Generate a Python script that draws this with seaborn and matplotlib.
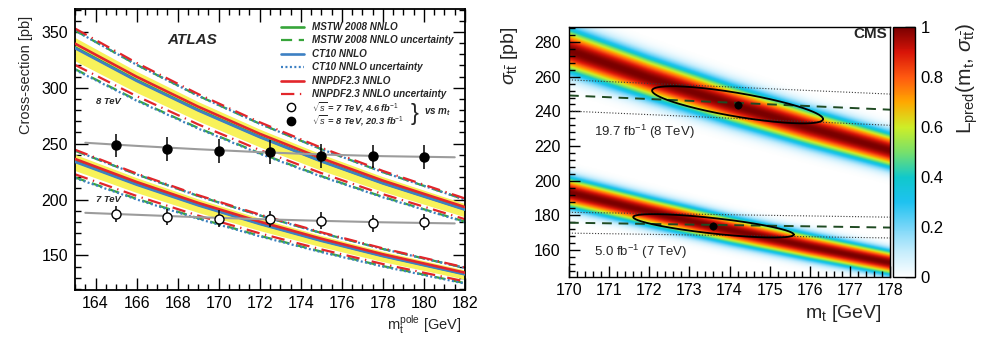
import math
import numpy as np
import pandas as pd
import matplotlib
matplotlib.use("Agg")
import matplotlib.pyplot as plt
from matplotlib.colors import LinearSegmentedColormap
from matplotlib.ticker import MultipleLocator, FuncFormatter
import seaborn as sns

# ---------------- ATLAS: theory predictions vs pole mass ----------------
m_theory = [163, 166, 169, 172, 175, 178, 182]
mstw_8tev = [336.2, 306.8, 280.3, 256.3, 234.5, 214.8, 191.3]
ct10_8tev = [335.5, 306.2, 279.7, 255.8, 234.1, 214.4, 190.9]
nnpdf_8tev = [339.5, 309.9, 283.1, 258.8, 236.9, 216.9, 193.2]
mstw_7tev = [234.3, 213.9, 195.4, 178.6, 163.5, 149.7, 133.4]
ct10_7tev = [233.7, 213.3, 194.8, 178.1, 163.0, 149.3, 133.0]
nnpdf_7tev = [236.3, 215.7, 197.0, 180.2, 164.9, 151.0, 134.5]

# relative uncertainties in percent: (up, down)
mstw_unc_8tev = [4.5, 5.8]
ct10_unc_8tev = [4.7, 5.8]
nnpdf_unc_8tev = [4.0, 5.6]
mstw_unc_7tev = [4.0, 6.2]
ct10_unc_7tev = [4.3, 6.2]
nnpdf_unc_7tev = [3.5, 5.8]
scale_unc = [2.6, 3.6]

# measured cross-sections at each assumed mass
mt_points = [165, 167.5, 170, 172.5, 175, 177.5, 180]
xsec_8tev = [248.5, 245.4, 243.3, 242.4, 239.0, 238.6, 238.0]
err_8tev = [10.5, 10.5, 10.5, 10.5, 10.5, 10.5, 10.5]
xsec_7tev = [187.2, 184.5, 183.0, 182.7, 181.2, 178.6, 180.0]
err_7tev = [7.3, 7.3, 7.3, 7.3, 7.3, 7.3, 7.3]

# mass dependence fitted through the measurements
m_fit = [163.5, 166, 169, 172, 175, 178, 181.5]
fit_8tev = [250.8, 248.0, 245.0, 242.4, 240.3, 238.8, 237.8]
fit_7tev = [188.1, 186.3, 184.2, 182.4, 180.9, 179.6, 178.6]

# ---------------- CMS: predicted likelihood and measurement ----------------
cms_mt = [170, 172, 174, 176, 178]
band_center_8tev = [274.7, 258.8, 243.9, 230.0, 217.0]
band_center_7tev = [192.8, 181.7, 171.2, 161.5, 152.3]
band_halfwidth_pct = 3.6
band_smear_pct = 2.0

meas_mt = [170, 178]
meas_8tev = [249.2, 241.0]
meas_unc_8tev = 9.0
meas_7tev = [175.8, 173.0]
meas_unc_7tev = 6.0

best_mt = [173.6, 174.2]
best_xsec = [174.0, 243.8]
ellipse_dm = [2.0, 2.13]
ellipse_tilt = [-2.52, -3.85]
ellipse_dsig = [4.48, 6.9]

# ---------------- style ----------------
sns.set_theme(style="ticks")
plt.rcParams["font.family"] = ["Liberation Sans", "DejaVu Sans"]
plt.rcParams["mathtext.fontset"] = "custom"
plt.rcParams["mathtext.rm"] = "Liberation Sans"
plt.rcParams["mathtext.it"] = "Liberation Sans:italic"
plt.rcParams["mathtext.bf"] = "Liberation Sans:bold"
plt.rcParams["mathtext.sf"] = "Liberation Sans"
plt.rcParams["axes.edgecolor"] = "black"
plt.rcParams["xtick.color"] = "black"
plt.rcParams["ytick.color"] = "black"

GREEN = "#37a53a"
BLUE = "#3d80c3"
RED = "#e2262b"
YELLOW = "#f8f25a"
DASH_MSTW = (0, (5, 3))
DASH_CT10 = (0, (0.9, 1.1))
DASH_NNPDF = (0, (6, 2.5, 0.6, 2.5))

W, H = 986, 343
fig = plt.figure(figsize=(W / 100, H / 100), dpi=100)
axL = fig.add_axes([0.0761, 0.1545, 0.3955, 0.8192])
axR = fig.add_axes([0.5771, 0.1910, 0.3256, 0.7303])
cax = fig.add_axes([0.9057, 0.1910, 0.0223, 0.7303])

# ---------------- left panel ----------------
series = [
    (GREEN, mstw_8tev, mstw_unc_8tev, mstw_7tev, mstw_unc_7tev, DASH_MSTW),
    (BLUE, ct10_8tev, ct10_unc_8tev, ct10_7tev, ct10_unc_7tev, DASH_CT10),
    (RED, nnpdf_8tev, nnpdf_unc_8tev, nnpdf_7tev, nnpdf_unc_7tev, DASH_NNPDF),
]

m_arr = np.array(m_theory)
for central in (mstw_8tev, mstw_7tev):
    c = np.array(central)
    axL.fill_between(m_arr, c * (1 + scale_unc[0] / 100), c * (1 - scale_unc[1] / 100),
                     color=YELLOW, lw=0, zorder=1)

for col, c8, u8, c7, u7, dash in series:
    for cen, unc in ((c8, u8), (c7, u7)):
        c = np.array(cen)
        for edge in (c * (1 + unc[0] / 100), c * (1 - unc[1] / 100)):
            axL.plot(m_arr, edge, color=col, lw=1.6, linestyle=dash, zorder=2)

for col, c8, u8, c7, u7, dash in series:
    for cen in (c8, c7):
        df = pd.DataFrame({"m": m_theory, "xsec": cen})
        sns.lineplot(data=df, x="m", y="xsec", ax=axL, color=col, lw=1.9,
                     errorbar=None, zorder=3)

for fit in (fit_8tev, fit_7tev):
    sns.lineplot(x=m_fit, y=fit, ax=axL, color="#9c9c9c", lw=1.5, errorbar=None, zorder=4)

axL.errorbar(mt_points, xsec_8tev, yerr=err_8tev, fmt="o", color="black", ms=6.5,
             mfc="black", mec="black", elinewidth=1.1, capsize=0, zorder=5)
axL.errorbar(mt_points, xsec_7tev, yerr=err_7tev, fmt="o", color="black", ms=6.5,
             mfc="white", mec="black", mew=1.0, elinewidth=1.1, capsize=0, zorder=5)

axL.set_xlim(163, 182)
axL.set_ylim(119, 370.5)
axL.xaxis.set_major_locator(MultipleLocator(2))
axL.xaxis.set_minor_locator(MultipleLocator(0.5))
axL.yaxis.set_major_locator(MultipleLocator(50))
axL.yaxis.set_minor_locator(MultipleLocator(10))
axL.tick_params(which="both", direction="in", top=True, right=True, labelsize=11.5, width=1)
axL.tick_params(which="major", length=9)
axL.tick_params(which="minor", length=4.5)
axL.tick_params(axis="x", pad=4)
axL.tick_params(axis="y", pad=5)
for sp in axL.spines.values():
    sp.set_linewidth(1.3)

axL.set_xlabel(r"m$_{\mathregular{t}}^{\mathregular{pole}}$ [GeV]", fontsize=10.5, loc="right")
axL.xaxis.set_label_coords(0.99, -0.085)
axL.set_ylabel("Cross-section [pb]", fontsize=10.5, loc="top")
axL.yaxis.set_label_coords(-0.108, 0.975)

axL.text(168.7, 343, "ATLAS", fontsize=11, fontweight="bold", fontstyle="italic",
         ha="center", va="center")
axL.text(164.0, 288, "8 TeV", fontsize=6.8, fontweight="bold", fontstyle="italic",
         ha="left", va="center")
axL.text(164.0, 200, "7 TeV", fontsize=6.8, fontweight="bold", fontstyle="italic",
         ha="left", va="center")

# legend, laid out row by row in axes fractions
ax_x0, ax_w, ax_bottom, ax_h = 75, 390, 290, 281


def fx(px):
    return (px - ax_x0) / ax_w


def fy(py):
    return (ax_bottom - py) / ax_h


leg_kw = dict(transform=axL.transAxes, fontsize=7.1, fontweight="bold", fontstyle="italic",
              ha="left", va="center")
line_keys = [
    (GREEN, 1.9, "-", "MSTW 2008 NNLO"),
    (GREEN, 1.6, DASH_MSTW, "MSTW 2008 NNLO uncertainty"),
    (BLUE, 1.9, "-", "CT10 NNLO"),
    (BLUE, 1.6, DASH_CT10, "CT10 NNLO uncertainty"),
    (RED, 1.9, "-", "NNPDF2.3 NNLO"),
    (RED, 1.6, DASH_NNPDF, "NNPDF2.3 NNLO uncertainty"),
]
row_y = [27 + 13.4 * i for i in range(8)]
for (col, lw, ls, label), py in zip(line_keys, row_y):
    axL.plot([fx(281), fx(304)], [fy(py), fy(py)], transform=axL.transAxes, color=col,
             lw=lw, linestyle=ls, clip_on=False, zorder=6)
    axL.text(fx(312), fy(py), label, **leg_kw)

marker_keys = [
    ("white", r"$\sqrt{s}$ = 7 TeV, 4.6 fb$^{-1}$"),
    ("black", r"$\sqrt{s}$ = 8 TeV, 20.3 fb$^{-1}$"),
]
marker_kw = dict(leg_kw, fontsize=6.7)
for (face, label), py in zip(marker_keys, row_y[6:]):
    axL.plot([fx(291)], [fy(py)], transform=axL.transAxes, marker="o", ms=6, mfc=face,
             mec="black", mew=1.0, ls="none", clip_on=False, zorder=6)
    axL.text(fx(312), fy(py), label, **marker_kw)
axL.text(fx(415), fy(114), "}", transform=axL.transAxes, fontsize=17, ha="center", va="center")
axL.text(fx(424), fy(112), r"vs m$_{\mathregular{t}}$", transform=axL.transAxes,
         fontsize=7.1, fontweight="bold", fontstyle="italic", ha="left", va="center")

# ---------------- right panel ----------------
colors = [
    (0.00, "#ffffff"), (0.10, "#c6edfc"), (0.20, "#78d6f8"), (0.30, "#1ec2f0"),
    (0.40, "#10c8cc"), (0.50, "#78e06a"), (0.60, "#cdee28"), (0.70, "#ffa800"),
    (0.80, "#ff5a10"), (0.90, "#d81408"), (1.00, "#7a0000"),
]
cmap = LinearSegmentedColormap.from_list("lpred", colors)

y_lo, y_hi = 144.2, 288.7
m_grid = np.linspace(170, 178, 401)
s_grid = np.linspace(y_lo, y_hi, 601)
M, S = np.meshgrid(m_grid, s_grid)
verf = np.vectorize(math.erf)


def band_likelihood(center):
    c = np.interp(M, cms_mt, center)
    w = c * band_halfwidth_pct / 100
    s = c * band_smear_pct / 100 * np.sqrt(2)
    d = S - c
    return (verf((d + w) / s) - verf((d - w) / s)) / (2 * verf(w / s))


L = np.maximum(band_likelihood(band_center_8tev), band_likelihood(band_center_7tev))
im = axR.imshow(L, origin="lower", extent=[170, 178, y_lo, y_hi], aspect="auto",
                cmap=cmap, vmin=0, vmax=1, interpolation="bilinear", zorder=0)

for meas, unc in ((meas_8tev, meas_unc_8tev), (meas_7tev, meas_unc_7tev)):
    meas = np.array(meas)
    axR.plot(meas_mt, meas, color="#1f4a22", lw=1.4, linestyle=(0, (5, 3.5)), zorder=2)
    for edge in (meas + unc, meas - unc):
        axR.plot(meas_mt, edge, color="#3a3a3a", lw=0.8, linestyle=(0, (1, 1.6)), zorder=2)

t = np.linspace(0, 2 * np.pi, 300)
for m0, s0, dm, k, ds in zip(best_mt, best_xsec, ellipse_dm, ellipse_tilt, ellipse_dsig):
    axR.plot(m0 + dm * np.cos(t), s0 + k * dm * np.cos(t) + ds * np.sin(t),
             color="black", lw=1.3, zorder=3)
sns.scatterplot(x=best_mt, y=best_xsec, ax=axR, color="black", s=28, edgecolor="black", zorder=4)

axR.set_xlim(170, 178)
axR.set_ylim(y_lo, y_hi)
axR.xaxis.set_major_locator(MultipleLocator(1))
axR.xaxis.set_minor_locator(MultipleLocator(0.2))
axR.yaxis.set_major_locator(MultipleLocator(20))
axR.yaxis.set_minor_locator(MultipleLocator(4))
axR.tick_params(which="both", direction="in", labelsize=11.5, width=1)
axR.tick_params(which="major", length=8)
axR.tick_params(which="minor", length=4)
axR.tick_params(axis="x", pad=4)
axR.tick_params(axis="y", pad=6)
for sp in axR.spines.values():
    sp.set_linewidth(1.0)

axR.set_xlabel(r"m$_{\mathregular{t}}$ [GeV]", fontsize=14, loc="right")
axR.xaxis.set_label_coords(0.975, -0.10)
axR.set_ylabel(r"$\sigma_{\mathregular{t\bar{t}}}$ [pb]", fontsize=14, loc="top")
axR.yaxis.set_label_coords(-0.153, 1.0)

axR.text(177.92, 284.4, "CMS", fontsize=11, fontweight="bold", ha="right", va="center")
axR.text(170.61, 228, r"19.7 fb$^{-1}$ (8 TeV)", fontsize=9.5, ha="left", va="center")
axR.text(170.61, 159, r"5.0 fb$^{-1}$ (7 TeV)", fontsize=9.5, ha="left", va="center")

cb = fig.colorbar(im, cax=cax)
cb.outline.set_linewidth(1.0)
cb.set_ticks([0, 0.2, 0.4, 0.6, 0.8, 1.0])
cb.ax.yaxis.set_major_formatter(FuncFormatter(lambda v, p: f"{v:g}"))
cax.tick_params(direction="in", length=7, width=1, labelsize=12, pad=4)
cb.set_label(r"L$_{\mathregular{pred}}$(m$_{\mathregular{t}}$, $\sigma_{\mathregular{t\bar{t}}}$)",
             fontsize=15, loc="top")
cax.yaxis.set_label_coords(2.8, 1.016)

fig.savefig("out.png", dpi=100, facecolor="white")
